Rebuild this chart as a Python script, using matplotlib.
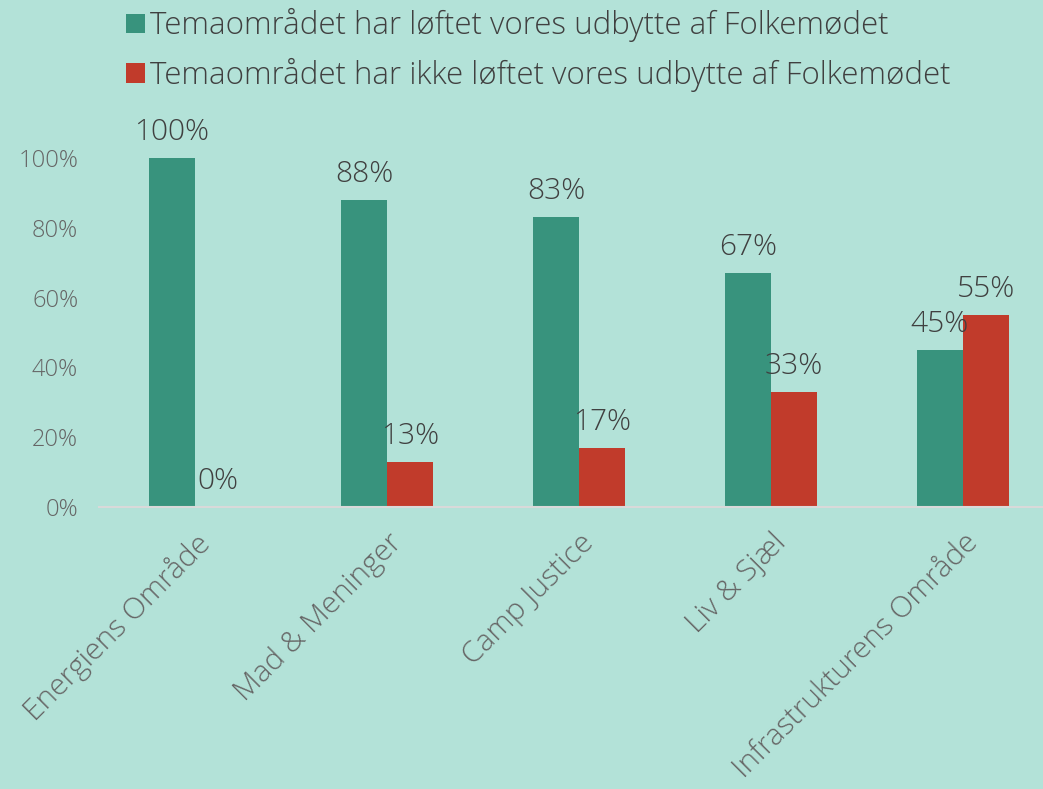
import numpy as np
import matplotlib.pyplot as plt

categories = ["Energiens Område", "Mad & Meninger", "Camp Justice", "Liv & Sjæl", "Infrastrukturens Område"]
loeftet = [100, 88, 83, 67, 45]
ikke_loeftet = [0, 13, 17, 33, 55]
series_names = [
    "Temaområdet har løftet vores udbytte af Folkemødet",
    "Temaområdet har ikke løftet vores udbytte af Folkemødet",
]

bg = "#b3e2d8"
green = "#38937d"
red = "#c13b2b"
text_dark = "#404040"
text_gray = "#666666"

plt.rcParams["font.family"] = ["Open Sans", "DejaVu Sans"]
plt.rcParams["font.weight"] = "light"

fig = plt.figure(figsize=(10.43, 7.89), dpi=100)
fig.patch.set_facecolor(bg)
# axes spans x from pixel 99 to 1059, y from 507 (0%) to 158 (100%)
ax = fig.add_axes([99 / 1043, (789 - 507) / 789, 960 / 1043, 349 / 789])
ax.set_facecolor(bg)

x = np.arange(len(categories))
w = 0.24
b1 = ax.bar(x - w / 2, loeftet, w, color=green, label=series_names[0])
b2 = ax.bar(x + w / 2, ikke_loeftet, w, color=red, label=series_names[1])

for bars, vals in ((b1, loeftet), (b2, ikke_loeftet)):
    for bar, v in zip(bars, vals):
        ax.annotate(f"{v}%", (bar.get_x() + bar.get_width() / 2, v),
                    xytext=(0, 8), textcoords="offset points",
                    ha="center", va="bottom", fontsize=21.5, color=text_dark,
                    clip_on=False)

ax.set_xlim(-0.5, len(categories) - 0.5)
ax.set_ylim(0, 100)
ax.set_yticks(range(0, 101, 20))
ax.set_yticklabels([f"{t}%" for t in range(0, 101, 20)], fontsize=17, color=text_gray)
ax.set_xticks(x)
ax.set_xticklabels(categories, rotation=45, ha="right", rotation_mode="anchor",
                   fontsize=21.5, color=text_gray)
ax.tick_params(axis="both", length=0)
ax.tick_params(axis="y", pad=15)
ax.tick_params(axis="x", pad=15)

for s in ("top", "right", "left"):
    ax.spines[s].set_visible(False)
ax.spines["bottom"].set_color("#d9d9d9")
ax.spines["bottom"].set_linewidth(1.5)

leg = fig.legend(loc="upper left", bbox_to_anchor=(0.094, 1.025), frameon=False,
                 handlelength=0.6, handleheight=0.6, handletextpad=0.15,
                 labelspacing=0.5, labelcolor=text_dark, prop={"size": 22.5})

fig.savefig("out.png", dpi=100, facecolor=bg)
